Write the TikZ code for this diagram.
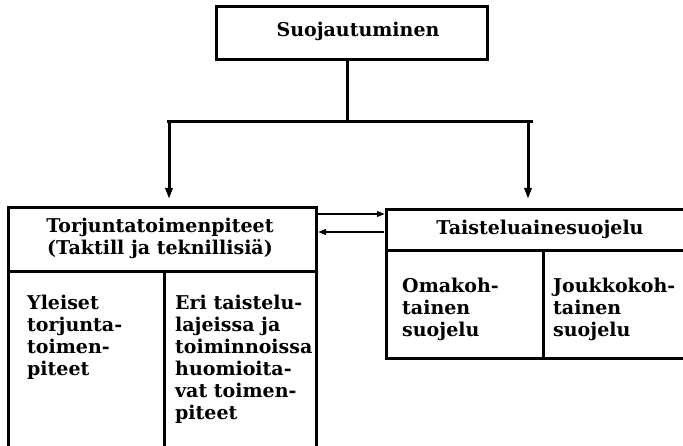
\documentclass[tikz,border=0pt]{standalone}
\usepackage{fontspec}
\setmainfont{DejaVu Serif}
\usetikzlibrary{arrows.meta}
\begin{document}
\begin{tikzpicture}[x=1pt,y=-1pt,
  box/.style={draw, line width=3pt, rectangle, anchor=north west, inner sep=0pt},
  lbl/.style={font=\fontsize{19}{22}\selectfont\bfseries, inner sep=0pt},
  celltxt/.style={lbl, anchor=north west, align=left},
  conn/.style={line width=3pt},
  arr/.style={line width=3pt, -{Triangle[width=7pt,length=11pt]}},
  sarr/.style={line width=2.5pt, -{Triangle[width=5.5pt,length=8pt]}}]
\useasboundingbox (0,0) rectangle (683,446);
% top box
\node[box, minimum width=271pt, minimum height=53pt] (top) at (215,5) {};
\node[lbl] (toplbl) at (358,31) {Suojautuminen};
% left box
\node[box, minimum width=308pt, minimum height=64pt] (lhead) at (7,206) {};
\node[lbl, align=center] (lheadlbl) at (160,238) {Torjuntatoimenpiteet\\(Taktill ja teknillisiä)};
\node[box, minimum width=156pt, minimum height=176pt] (lcellA) at (7,270) {};
\node[box, minimum width=152pt, minimum height=176pt] (lcellB) at (163,270) {};
\node[celltxt] (ltxtA) at (27,295) {Yleiset\\torjunta-\\toimen-\\piteet};
\node[celltxt] (ltxtB) at (175,295) {Eri taistelu-\\lajeissa ja\\toiminnoissa\\huomioita-\\vat toimen-\\piteet};
% right box
\node[box, minimum width=310pt, minimum height=41pt] (rhead) at (385,208) {};
\node[lbl] (rheadlbl) at (540,229) {Taisteluainesuojelu};
\node[box, minimum width=157pt, minimum height=108pt] (rcellA) at (385,249) {};
\node[box, minimum width=153pt, minimum height=108pt] (rcellB) at (542,249) {};
\node[celltxt] (rtxtA) at (402,278) {Omakoh-\\tainen\\suojelu};
\node[celltxt] (rtxtB) at (553,278) {Joukkokoh-\\tainen\\suojelu};
% connectors
\coordinate (j) at (347,122);
\coordinate (jl) at (167,122);
\coordinate (jr) at (533,122);
\draw[conn] (top.south -| j) -- (j);
\draw[conn] (jl) -- (jr);
\draw[arr] (169,122) -- (169,199);
\draw[arr] (528,122) -- (528,199);
\coordinate (a1) at (315,214);
\coordinate (a2) at (384,232);
\draw[sarr] (a1) -- (a1 -| rhead.west);
\draw[sarr] (a2) -- (a2 -| lhead.east);
\end{tikzpicture}
\end{document}
